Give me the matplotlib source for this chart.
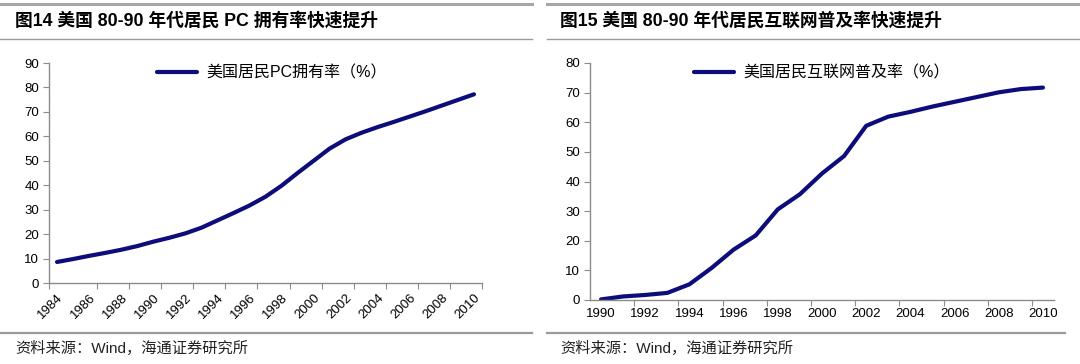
import matplotlib
matplotlib.use('Agg')
import matplotlib.pyplot as plt
from matplotlib.lines import Line2D

plt.rcParams['font.family'] = ['Liberation Sans', 'Noto Sans CJK SC', 'DejaVu Sans']

# ---- data ----
pc_years = list(range(1984, 2011))
pc_rate = [8.6, 9.8, 11.1, 12.3, 13.6, 15.1, 16.9, 18.5, 20.3, 22.6,
           25.6, 28.6, 31.7, 35.3, 39.8, 45.0, 50.0, 55.0, 58.8, 61.5,
           63.8, 65.9, 68.1, 70.3, 72.6, 74.9, 77.2]
pc_labels = list(range(1984, 2011, 2))

net_years = list(range(1990, 2011))
net_rate = [0.2, 1.2, 1.7, 2.4, 5.3, 10.8, 17.0, 21.8, 30.6, 35.7,
            42.7, 48.6, 58.8, 61.9, 63.5, 65.3, 66.9, 68.5, 70.1, 71.2, 71.7]
net_labels = list(range(1990, 2011, 2))

titles = ['图14 美国 80-90 年代居民 PC 拥有率快速提升',
          '图15 美国 80-90 年代居民互联网普及率快速提升']
legend_names = ['美国居民PC拥有率（%）', '美国居民互联网普及率（%）']
source = '资料来源：Wind，海通证券研究所'

W, H = 1080, 364
navy = '#0c0c7a'
gray = '#8c8c8c'
fams = ['Liberation Sans', 'Noto Sans CJK SC']

fig = plt.figure(figsize=(W / 100, H / 100), dpi=100)


def px(x0, y_top, w, h):
    # figure rect from pixel box (y measured from top)
    return [x0 / W, 1 - (y_top + h) / H, w / W, h / H]


def style(ax):
    for s in ['top', 'right']:
        ax.spines[s].set_visible(False)
    for s in ['left', 'bottom']:
        ax.spines[s].set_color(gray)
        ax.spines[s].set_linewidth(1.0)
    ax.tick_params(axis='y', direction='out', length=4, color=gray,
                   labelsize=9.5, pad=3)
    ax.tick_params(axis='x', which='major', direction='out', length=4,
                   color=gray, labelbottom=False)
    ax.tick_params(axis='x', which='minor', length=0, labelsize=9.5, pad=6)


def add_legend(ax, x, y):
    ax.legend(loc='center left', bbox_to_anchor=(x, y), frameon=False,
              borderpad=0, borderaxespad=0, handlelength=2.5,
              handletextpad=0.6, prop={'family': fams, 'size': 11.5})


# ---- panel frames: grey rules, titles, source notes ----
for i, (x0, x1, tx) in enumerate([(0, 532, 15), (547, 1080, 560)]):
    fig.add_artist(Line2D([x0 / W, x1 / W], [1 - 4 / H] * 2, color='#a6a6a6', lw=2.2))
    fig.add_artist(Line2D([x0 / W, x1 / W], [1 - 39 / H] * 2, color='#9a9a9a', lw=1.0))
    fig.add_artist(Line2D([x0 / W, (x1 - 15 * i) / W], [1 - 333 / H] * 2,
                          color='#9a9a9a', lw=1.6))
    fig.text(tx / W, 1 - 21 / H, titles[i], fontsize=12.8, fontweight='bold',
             va='center', ha='left', family=fams)
    fig.text(tx / W, 1 - 348 / H, source, fontsize=11, va='center', ha='left',
             family=fams, color='#222222')

# ---- left panel ----
ax1 = fig.add_axes(px(49, 63, 433, 220))
ax1.plot(pc_years, pc_rate, color=navy, lw=3, solid_capstyle='round',
         label=legend_names[0])
ax1.set_xlim(1983.5, 2010.5)
ax1.set_ylim(0, 90)
ax1.set_yticks(range(0, 91, 10))
ax1.set_xticks([1983.5] + [y + 0.5 for y in pc_labels[1:]])
ax1.set_xticks(pc_labels, minor=True)
ax1.set_xticklabels([str(y) for y in pc_labels], minor=True, rotation=45,
                    ha='right', va='top', rotation_mode='anchor')
style(ax1)
add_legend(ax1, 0.25, 0.955)

# ---- right panel ----
ax2 = fig.add_axes(px(590, 63, 464, 237))
ax2.plot(net_years, net_rate, color=navy, lw=3, solid_capstyle='round',
         label=legend_names[1])
ax2.set_xlim(1989.5, 2010.5)
ax2.set_ylim(0, 80)
ax2.set_yticks(range(0, 81, 10))
ax2.set_xticks([y + 1.5 for y in net_labels[:-1]])
ax2.set_xticks(net_labels, minor=True)
ax2.set_xticklabels([str(y) for y in net_labels], minor=True)
style(ax2)
add_legend(ax2, 0.224, 0.958)

fig.savefig('out.png', dpi=100)
